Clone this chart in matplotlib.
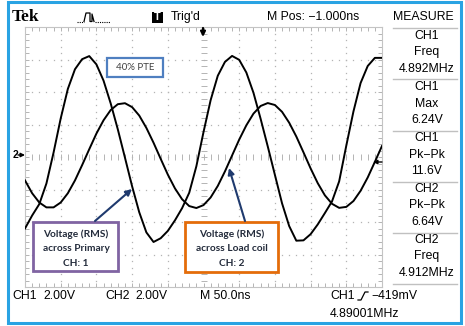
import numpy as np
import matplotlib
matplotlib.use('Agg')
import matplotlib.pyplot as plt
from matplotlib.patches import Rectangle, FancyArrowPatch
from matplotlib.lines import Line2D

# sample times (ns), screen = 10 div x 50 ns
t_ns = list(range(-250, 251, 10))

# CH1 - voltage across primary (V)
ch1_v = [-4.4, -3.6, -2.9, -1.63, 0.27, 2.37, 4.19, 5.4, 6.02, 6.21,
         5.7, 4.7, 3.3, 1.7, -0.04, -1.8, -3.4, -4.64, -5.23, -5.0,
         -4.55, -3.9, -3.15, -2.2, -0.57, 1.53, 3.5, 5.0, 5.85, 6.22,
         5.98, 5.2, 3.95, 2.35, 0.65, -1.1, -2.85, -4.25, -5.15, -5.13,
         -4.75, -4.15, -3.45, -2.73, -1.5, 0.7, 2.8, 4.55, 5.6, 6.1, 6.1]

# CH2 - voltage across load coil (V)
ch2_v = [-1.44, -2.23, -2.80, -3.10, -3.10, -2.80, -2.23, -1.44, -0.50, 0.48,
         1.44, 2.26, 2.89, 3.25, 3.31, 3.07, 2.55, 1.79, 0.88, -0.11,
         -1.08, -1.93, -2.60, -3.02, -3.14, -2.96, -2.49, -1.78, -0.89, 0.09,
         1.07, 1.95, 2.67, 3.14, 3.32, 3.20, 2.78, 2.11, 1.26, 0.29,
         -0.70, -1.61, -2.36, -2.88, -3.13, -3.07, -2.71, -2.08, -1.26, -0.30, 0.68]

meas_labels = [('CH1', 'Freq', '4.892MHz'),
               ('CH1', 'Max', '6.24V'),
               ('CH1', 'Pk\u2212Pk', '11.6V'),
               ('CH2', 'Pk\u2212Pk', '6.64V'),
               ('CH2', 'Freq', '4.912MHz')]

W, H = 465, 326
fig = plt.figure(figsize=(W / 100, H / 100), dpi=100)
fig.patch.set_facecolor('white')


def fx(x):
    return x / W


def fy(y):
    return 1 - y / H


def ftext(x, y, s, **kw):
    kw.setdefault('family', 'Liberation Sans')
    kw.setdefault('fontsize', 8.8)
    kw.setdefault('va', 'center')
    fig.text(fx(x), fy(y), s, **kw)


def fline(xs, ys, **kw):
    fig.add_artist(Line2D([fx(v) for v in xs], [fy(v) for v in ys],
                          transform=fig.transFigure, **kw))


def fbox(x0, y0, x1, y1, ec, lw):
    fig.add_artist(Rectangle((fx(x0), fy(y1)), (x1 - x0) / W, (y1 - y0) / H,
                             transform=fig.transFigure, fc='white', ec=ec,
                             lw=lw, zorder=5))


def farrow(x0, y0, x1, y1, color, lw=1.5, ms=9, style='-|>'):
    fig.add_artist(FancyArrowPatch((fx(x0), fy(y0)), (fx(x1), fy(y1)),
                                   transform=fig.transFigure, arrowstyle=style,
                                   mutation_scale=ms, lw=lw, color=color,
                                   shrinkA=0, shrinkB=0, zorder=6))


# outer blue frame
fig.add_artist(Rectangle((fx(8), fy(323)), (461 - 8) / W, (323 - 2) / H,
                         transform=fig.transFigure, fill=False,
                         ec='#29a3e3', lw=2.2, zorder=0))

# graticule
ax = fig.add_axes([fx(25), fy(287), (382 - 25) / W, (287 - 27) / H])
ax.set_xlim(-250, 250)
ax.set_ylim(-8, 8)
grid_c = '#b4b4b4'
for s in ax.spines.values():
    s.set_color('#c4c4c4')
    s.set_linewidth(0.8)
ax.set_xticks(np.arange(-250, 251, 10))
ax.set_yticks(np.arange(-8, 8.01, 0.4))
ax.tick_params(direction='in', length=3, width=0.7, color=grid_c,
               top=True, right=True, labelbottom=False, labelleft=False)

ydots = np.arange(-8, 8.01, 0.4)
xdots = np.arange(-250, 251, 10)
for xv in range(-200, 201, 50):
    if xv != 0:
        ax.plot([xv] * len(ydots), ydots, ls='none', marker='s', ms=0.9,
                mec='none', mfc=grid_c)
for yv in range(-6, 7, 2):
    if yv != 0:
        ax.plot(xdots, [yv] * len(xdots), ls='none', marker='s', ms=0.9,
                mec='none', mfc=grid_c)
ax.plot(xdots, [0] * len(xdots), ls='none', marker='|', ms=4, mew=0.7, color=grid_c)
ax.plot([0] * len(ydots), ydots, ls='none', marker='_', ms=4, mew=0.7, color=grid_c)

ax.plot(t_ns, ch1_v, color='black', lw=1.4, zorder=3)
ax.plot(t_ns, ch2_v, color='black', lw=1.4, zorder=3)

# top status line
ftext(12, 17, 'Tek', family='Liberation Serif', fontweight='bold', fontsize=12.5)
fline([77, 84], [21.5, 21.5], color='black', lw=0.8, ls=(0, (1, 1)))
fline([84, 86, 90, 90, 92, 92, 94], [21.5, 13, 13, 21.5, 21.5, 14, 21.5],
      color='black', lw=0.9)
fline([95, 110], [21.5, 21.5], color='black', lw=0.8, ls=(0, (1, 1)))
fig.add_artist(Rectangle((fx(152), fy(23)), 11 / W, 11 / H,
                         transform=fig.transFigure, fc='black', ec='none', zorder=1))
ftext(157.5, 17.3, 'T', color='white', fontweight='bold', fontsize=8,
      ha='center', zorder=4)
ftext(171, 17, "Trig'd")
ftext(267, 17, 'M Pos: \u22121.000ns')
ftext(393, 17, 'MEASURE')

# measurement panel
for ys in [28, 79, 131, 182, 233, 284]:
    fline([393, 457], [ys, ys], color='#c0c0c0', lw=1.0)
for k, (a, b, c) in enumerate(meas_labels):
    y0 = 36 + 51 * k
    ftext(427, y0, a, ha='center')
    ftext(427, y0 + 16.5, b, ha='center')
    ftext(427, y0 + 33, c, ha='center')

# bottom status line
ftext(12, 296, 'CH1')
ftext(43, 296, '2.00V')
ftext(105, 296, 'CH2')
ftext(135, 296, '2.00V')
ftext(200, 296, 'M 50.0ns')
ftext(330, 296, 'CH1')
fline([358, 361, 365, 368], [300, 300, 292, 292], color='black', lw=0.9)
ftext(371, 296, '\u2212419mV')
ftext(330, 314, '4.89001MHz')

# markers: CH2 ground, trigger position, trigger level
ftext(13, 155, '2', fontweight='bold', fontsize=7.5)
farrow(18, 155, 25, 155, 'black', lw=1.0, ms=6)
farrow(203, 28, 203, 37, 'black', lw=1.6, ms=7)
farrow(382, 162, 373, 162, 'black', lw=1.0, ms=6)

# annotations
fbox(107, 58, 163, 77, '#4f7fc0', 1.6)
ftext(135, 67.5, '40% PTE', family='Lato', fontsize=7, ha='center',
      color='#404040', zorder=7)

tc = '#232b3b'
fbox(33, 222, 118, 271, '#8064a2', 2.0)
for yy, s in zip([234, 248.5, 263], ['Voltage (RMS)', 'across Primary', 'CH: 1']):
    ftext(76, yy, s, family='Lato', fontweight='bold', fontsize=7.3,
          ha='center', color=tc, zorder=7)
farrow(95, 221, 132, 189, '#1f3a6e', lw=1.5, ms=9)

fbox(185, 222, 278, 272, '#e46c0a', 2.0)
for yy, s in zip([234, 248.5, 263], ['Voltage (RMS)', 'across Load coil', 'CH: 2']):
    ftext(231.5, yy, s, family='Lato', fontweight='bold', fontsize=7.3,
          ha='center', color=tc, zorder=7)
farrow(245, 221, 229, 168, '#1f3a6e', lw=1.5, ms=9)

fig.savefig('out.png', dpi=100, facecolor='white')
